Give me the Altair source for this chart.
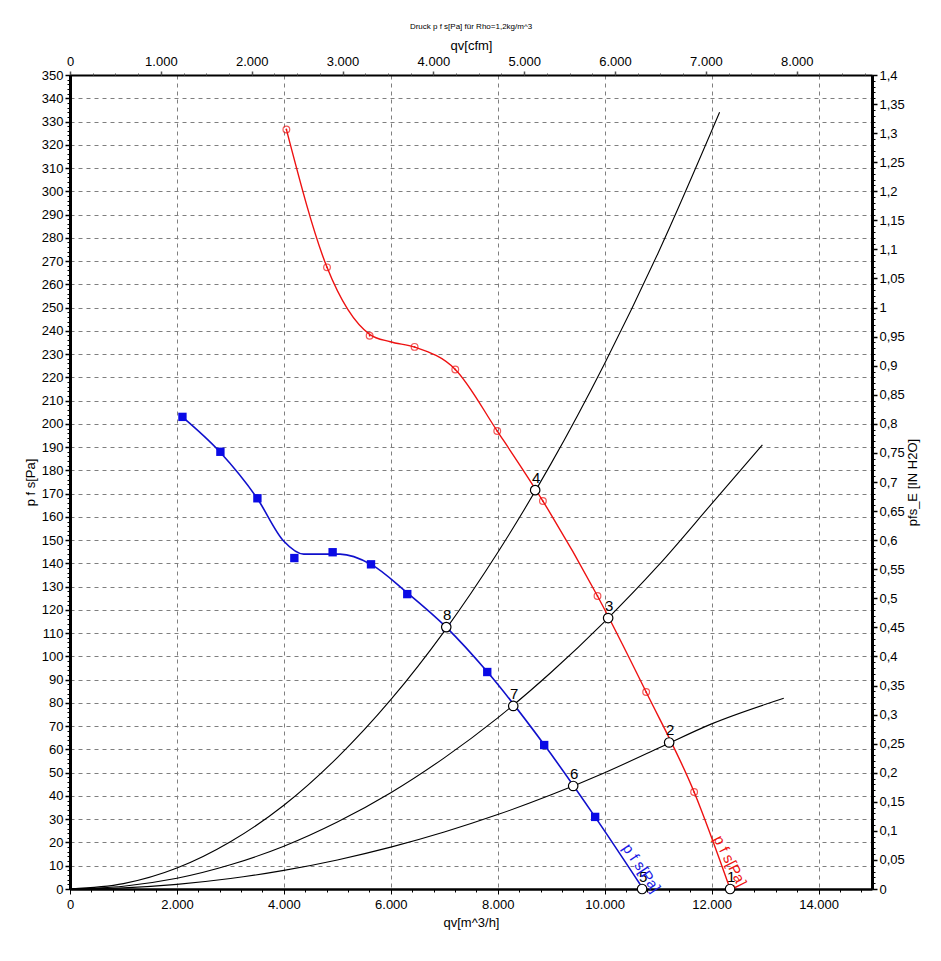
import altair as alt
import pandas as pd

# ---------------- data ----------------
# blue fan curve (p f s[Pa]) - smooth line and square markers
blue_line_q = [2100, 2800, 3500, 4000, 4370, 5050, 5630, 6300, 7040, 7800, 8870, 9820, 10720]
blue_line_p = [203, 188, 168, 149.5, 144, 144, 139.6, 127.5, 112.5, 93.5, 62, 31, 0]
blue_mark_q = [2103, 2813, 3505, 4196, 4912, 5630, 6308, 7037, 7804, 8869, 9822]
blue_mark_p = [203, 188, 168, 142.3, 144.8, 139.6, 126.8, 112.6, 93.3, 61.9, 31]

# red fan curve (p f s[Pa]) - smooth line and circle markers
red_line_q = [4047, 4807, 5604, 5990, 6445, 7206, 7991, 8845, 9866, 10776, 11673, 12346]
red_line_p = [326.6, 267.3, 238.5, 235.3, 233, 223.4, 196.9, 166.8, 126, 84.7, 41.7, 0]
red_mark_q = [4047, 4807, 5604, 6445, 7206, 7991, 8845, 9866, 10776, 11673]
red_mark_p = [326.6, 267.3, 237.9, 233.1, 223.4, 196.9, 166.8, 126, 84.7, 41.7]

# system (resistance) curves
sysA_q = [0, 1000, 2000, 3000, 4000, 5000, 6000, 7000, 8000, 9000, 10000, 11000, 12150]
sysA_p = [0, 2.3, 9, 20.3, 36, 56.5, 81.4, 110.8, 144.7, 183, 226, 273.5, 334]
sysB_q = [0, 1000, 2000, 3000, 4000, 5000, 6000, 7000, 8000, 9000, 10000, 11000, 12000, 12950]
sysB_p = [0, 1.2, 4.6, 10.4, 18.4, 28.8, 41.4, 56.4, 73.6, 93.2, 115, 139, 165.6, 191]
sysC_q = [0, 1000, 2000, 3000, 4000, 5000, 6000, 7000, 8000, 9000, 10000, 11000, 12000, 13350]
sysC_p = [0, 0.5, 2, 4.5, 8, 12.5, 18, 24.5, 32, 40.5, 50, 60.5, 71, 82]

# operating points
op_q = [12346, 11206, 10065, 8700, 10700, 9411, 8290, 7037]
op_p = [0, 63, 116.5, 171.5, 0, 44.3, 78.7, 112.6]
op_lbl = ["1", "2", "3", "4", "5", "6", "7", "8"]

# axis ticks
x_major = list(range(0, 15000, 2000))
x_minor = list(range(0, 15001, 400))
y_major = list(range(0, 351, 10))
y_minor = list(range(0, 351, 2))
cfm_major = list(range(0, 9000, 1000))
cfm_minor = list(range(0, 8829, 250))
inh_major = [round(i * 0.05, 2) for i in range(29)]
inh_minor = [round(i * 0.01, 2) for i in range(141)]

FONT = "Liberation Sans"
X = alt.Scale(domain=[0, 15000], nice=False, zero=False)
Y = alt.Scale(domain=[0, 350], nice=False, zero=False)
CFM = alt.Scale(domain=[0, 15000 / 1.699], nice=False, zero=False)
INH = alt.Scale(domain=[0, 1.4], nice=False, zero=False)

dummy = pd.DataFrame({"v": [0]})
dot_fmt = "replace(format(datum.value, ',.0f'), ',', '.')"
com_fmt = "replace(format(datum.value, '.2~f'), '.', ',')"

# ---------------- axis layers ----------------
major = alt.Chart(dummy).mark_point(opacity=0).encode(
    x=alt.X("v:Q", scale=X, title="qv[m^3/h]", axis=alt.Axis(
        orient="bottom", values=x_major, labelExpr=dot_fmt, grid=True,
        gridDash=[4, 4], gridColor="#7f7f7f", gridWidth=1, tickSize=5, tickColor="black",
        domainColor="black", domainWidth=2.5, labelFont=FONT, labelFontSize=13,
        labelColor="black", labelPadding=4, titleFont=FONT, titleFontSize=13,
        titleFontWeight="normal", titleColor="black", titlePadding=5, labelFlush=False)),
    y=alt.Y("v:Q", scale=Y, title="p f s[Pa]", axis=alt.Axis(
        orient="left", values=y_major, grid=True, gridDash=[4, 4], gridColor="#7f7f7f",
        gridWidth=1, tickSize=5, tickWidth=1.5, tickColor="black", domainColor="black",
        domainWidth=3, labelFont=FONT, labelFontSize=13, labelColor="black", labelPadding=2,
        titleFont=FONT, titleFontSize=13, titleFontWeight="normal", titleColor="black",
        titlePadding=4, labelFlush=False)),
)

minor = alt.Chart(dummy).mark_point(opacity=0).encode(
    x=alt.X("v:Q", scale=X, title=None, axis=alt.Axis(
        orient="bottom", values=x_minor, labels=False, domain=False, grid=False,
        tickSize=3, tickColor="black")),
    y=alt.Y("v:Q", scale=Y, title=None, axis=alt.Axis(
        orient="left", values=y_minor, labels=False, domain=False, grid=False,
        tickSize=3, tickColor="black")),
)

top = alt.Chart(dummy).mark_point(opacity=0).encode(
    x=alt.X("v:Q", scale=CFM, title="qv[cfm]", axis=alt.Axis(
        orient="top", values=cfm_major, labelExpr=dot_fmt, grid=False, tickSize=4,
        tickWidth=1.5, tickColor="#555", domainColor="black", domainWidth=2,
        labelFont=FONT, labelFontSize=13, labelColor="black", labelPadding=3,
        titleFont=FONT, titleFontSize=13, titleFontWeight="normal", titleColor="black",
        titlePadding=3, labelFlush=False)),
)
top_minor = alt.Chart(dummy).mark_point(opacity=0).encode(
    x=alt.X("v:Q", scale=CFM, title=None, axis=alt.Axis(
        orient="top", values=cfm_minor, labels=False, domain=False, grid=False,
        tickSize=2, tickColor="#555")),
)

right = alt.Chart(dummy).mark_point(opacity=0).encode(
    y=alt.Y("v:Q", scale=INH, title="pfs_E [IN H2O]", axis=alt.Axis(
        orient="right", values=inh_major, labelExpr=com_fmt, grid=False, tickSize=5,
        tickWidth=1.5, tickColor="black", domainColor="black", domainWidth=3,
        labelFont=FONT, labelFontSize=13, labelColor="black", labelPadding=2,
        titleFont=FONT, titleFontSize=13, titleFontWeight="normal", titleColor="black",
        titleAngle=270, titleBaseline="top", titlePadding=2, labelFlush=False)),
)
right_minor = alt.Chart(dummy).mark_point(opacity=0).encode(
    y=alt.Y("v:Q", scale=INH, title=None, axis=alt.Axis(
        orient="right", values=inh_minor, labels=False, domain=False, grid=False,
        tickSize=3, tickColor="black")),
)

# ---------------- data layers ----------------
def xy(qname="q", pname="p"):
    return dict(
        x=alt.X(f"{qname}:Q", scale=X, axis=None),
        y=alt.Y(f"{pname}:Q", scale=Y, axis=None),
    )

sys_df = pd.concat([
    pd.DataFrame({"q": sysA_q, "p": sysA_p, "c": "A"}),
    pd.DataFrame({"q": sysB_q, "p": sysB_p, "c": "B"}),
    pd.DataFrame({"q": sysC_q, "p": sysC_p, "c": "C"}),
])
sys_lines = alt.Chart(sys_df).mark_line(color="black", strokeWidth=1.1, interpolate="monotone").encode(
    detail="c:N", **xy())

red_line = alt.Chart(pd.DataFrame({"q": red_line_q, "p": red_line_p})).mark_line(
    color="#ee1111", strokeWidth=1.4, interpolate="monotone").encode(**xy())
blue_line = alt.Chart(pd.DataFrame({"q": blue_line_q, "p": blue_line_p})).mark_line(
    color="#1010cc", strokeWidth=1.6, interpolate="monotone").encode(**xy())

red_df = pd.DataFrame({"q": red_mark_q, "p": red_mark_p})
red_marks = alt.Chart(red_df).mark_point(
    shape="circle", filled=False, color="#ee1111", size=45, strokeWidth=1.2).encode(**xy())
red_dots = alt.Chart(red_df).mark_point(
    shape="circle", filled=True, color="#ee1111", size=3, opacity=1).encode(**xy())

blue_df = pd.DataFrame({"q": blue_mark_q, "p": blue_mark_p})
blue_marks = alt.Chart(blue_df).mark_point(
    shape="square", filled=True, color="#0a0ae6", size=70, opacity=1).encode(**xy())

op_df = pd.DataFrame({"q": op_q, "p": op_p, "t": op_lbl})
op_pts = alt.Chart(op_df).mark_point(
    shape="circle", filled=True, fill="white", stroke="black", strokeWidth=1.2,
    size=90, opacity=1).encode(**xy())
op_txt = alt.Chart(op_df).mark_text(
    font=FONT, fontSize=15, color="black", dy=-12, dx=1).encode(text="t:N", **xy())

blue_lbl = alt.Chart(pd.DataFrame({"q": [10690], "p": [9], "t": ["p f s[Pa]"]})).mark_text(
    font=FONT, fontSize=15, color="#1a1ae6", angle=56).encode(text="t:N", **xy())
red_lbl = alt.Chart(pd.DataFrame({"q": [12346], "p": [12], "t": ["p f s[Pa]"]})).mark_text(
    font=FONT, fontSize=15, color="#ee1111", angle=63).encode(text="t:N", **xy())

title_txt = alt.Chart(pd.DataFrame({"t": ["Druck p f s[Pa] für Rho=1,2kg/m^3"]})).mark_text(
    font=FONT, fontSize=8, color="black").encode(
    text="t:N", x=alt.value(401), y=alt.value(-48))

chart = alt.layer(
    major, minor, top, top_minor, right, right_minor,
    sys_lines, red_line, blue_line, red_marks, red_dots, blue_marks,
    op_pts, op_txt, blue_lbl, red_lbl, title_txt,
).resolve_scale(x="independent", y="independent").properties(
    width=802, height=814,
    padding={"left": 62, "top": 67, "right": 60, "bottom": 60},
    autosize=alt.AutoSizeParams(type="none"),
).configure_view(stroke=None).configure(background="white")

chart.save("out.html", embed_options={"renderer": "svg", "actions": False})
